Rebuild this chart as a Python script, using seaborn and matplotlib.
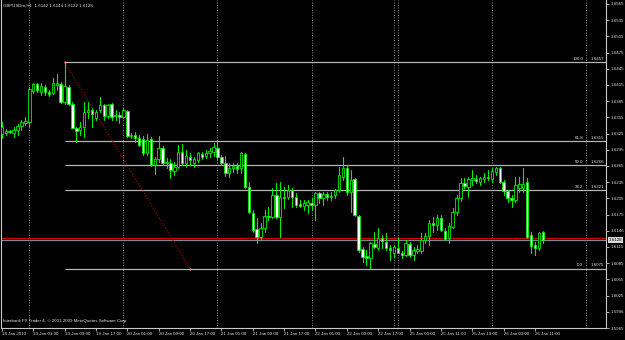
import matplotlib
matplotlib.use("Agg")
import matplotlib.pyplot as plt
import numpy as np
import pandas as pd
import seaborn as sns

# ---------------- data (GBPUSDm, H1) ----------------
bar_index = list(range(-7, 132))

opens = [
    1.6325, 1.6326, 1.6330, 1.6326, 1.6332, 1.6339, 1.6345,
    1.6347, 1.6404, 1.6417, 1.6402, 1.6411, 1.6402, 1.6400, 1.6415, 1.6417, 1.6384,
    1.6411, 1.6380, 1.6336, 1.6332, 1.6337, 1.6365, 1.6369, 1.6354, 1.6369, 1.6378,
    1.6358, 1.6380, 1.6358, 1.6360, 1.6356, 1.6367, 1.6321, 1.6323, 1.6317, 1.6315,
    1.6289, 1.6315, 1.6267, 1.6278, 1.6299, 1.6271, 1.6271, 1.6256, 1.6263, 1.6291,
    1.6271, 1.6282, 1.6271, 1.6276, 1.6288, 1.6284, 1.6289, 1.6291, 1.6299, 1.6282,
    1.6271, 1.6252, 1.6262, 1.6265, 1.6262, 1.6288, 1.6226, 1.6178, 1.6149, 1.6134,
    1.6151, 1.6173, 1.6171, 1.6212, 1.6171, 1.6208, 1.6208, 1.6221, 1.6208, 1.6195,
    1.6191, 1.6193, 1.6197, 1.6193, 1.6215, 1.6206, 1.6214, 1.6208, 1.6212, 1.6221,
    1.6245, 1.6262, 1.6217, 1.6241, 1.6173, 1.6112, 1.6099, 1.6095, 1.6121, 1.6114,
    1.6132, 1.6125, 1.6114, 1.6103, 1.6114, 1.6104, 1.6101, 1.6121, 1.6101, 1.6108,
    1.6108, 1.6128, 1.6136, 1.6160, 1.6156, 1.6169, 1.6145, 1.6132, 1.6152, 1.6180,
    1.6206, 1.6234, 1.6226, 1.6239, 1.6241, 1.6236, 1.6241, 1.6245, 1.6241, 1.6254,
    1.6262, 1.6236, 1.6219, 1.6206, 1.6202, 1.6225, 1.6225, 1.6236, 1.6138, 1.6119,
    1.6114, 1.6142,
]
highs = [
    1.6347, 1.6334, 1.6332, 1.6337, 1.6343, 1.6350, 1.6356,
    1.6411, 1.6419, 1.6419, 1.6419, 1.6415, 1.6406, 1.6428, 1.6436, 1.6421, 1.6457,
    1.6415, 1.6384, 1.6337, 1.6347, 1.6384, 1.6384, 1.6373, 1.6369, 1.6393, 1.6380,
    1.6380, 1.6382, 1.6369, 1.6365, 1.6373, 1.6369, 1.6326, 1.6328, 1.6323, 1.6321,
    1.6325, 1.6319, 1.6282, 1.6321, 1.6302, 1.6280, 1.6278, 1.6273, 1.6304, 1.6306,
    1.6295, 1.6289, 1.6282, 1.6291, 1.6291, 1.6295, 1.6299, 1.6308, 1.6310, 1.6286,
    1.6284, 1.6271, 1.6271, 1.6271, 1.6291, 1.6289, 1.6236, 1.6184, 1.6169, 1.6160,
    1.6184, 1.6189, 1.6225, 1.6234, 1.6236, 1.6226, 1.6230, 1.6225, 1.6215, 1.6202,
    1.6202, 1.6202, 1.6206, 1.6217, 1.6217, 1.6217, 1.6217, 1.6217, 1.6223, 1.6263,
    1.6282, 1.6267, 1.6258, 1.6243, 1.6175, 1.6115, 1.6110, 1.6125, 1.6143, 1.6151,
    1.6138, 1.6141, 1.6119, 1.6119, 1.6134, 1.6108, 1.6128, 1.6125, 1.6115, 1.6119,
    1.6140, 1.6141, 1.6165, 1.6171, 1.6175, 1.6175, 1.6151, 1.6160, 1.6188, 1.6212,
    1.6243, 1.6243, 1.6245, 1.6258, 1.6249, 1.6245, 1.6252, 1.6258, 1.6262, 1.6263,
    1.6263, 1.6239, 1.6221, 1.6212, 1.6245, 1.6245, 1.6262, 1.6243, 1.6143, 1.6125,
    1.6143, 1.6144,
]
lows = [
    1.6317, 1.6323, 1.6326, 1.6319, 1.6323, 1.6332, 1.6341,
    1.6337, 1.6400, 1.6402, 1.6397, 1.6397, 1.6395, 1.6399, 1.6406, 1.6382, 1.6380,
    1.6378, 1.6336, 1.6310, 1.6323, 1.6319, 1.6354, 1.6337, 1.6350, 1.6365, 1.6350,
    1.6354, 1.6350, 1.6350, 1.6345, 1.6354, 1.6319, 1.6317, 1.6310, 1.6302, 1.6286,
    1.6286, 1.6265, 1.6250, 1.6273, 1.6267, 1.6262, 1.6243, 1.6249, 1.6262, 1.6267,
    1.6263, 1.6267, 1.6263, 1.6273, 1.6278, 1.6280, 1.6282, 1.6284, 1.6278, 1.6267,
    1.6247, 1.6245, 1.6254, 1.6252, 1.6252, 1.6225, 1.6178, 1.6143, 1.6123, 1.6128,
    1.6143, 1.6165, 1.6169, 1.6169, 1.6134, 1.6188, 1.6204, 1.6189, 1.6189, 1.6189,
    1.6184, 1.6178, 1.6184, 1.6165, 1.6197, 1.6193, 1.6202, 1.6202, 1.6206, 1.6217,
    1.6239, 1.6212, 1.6180, 1.6173, 1.6106, 1.6088, 1.6082, 1.6077, 1.6114, 1.6110,
    1.6114, 1.6110, 1.6091, 1.6097, 1.6103, 1.6095, 1.6099, 1.6097, 1.6091, 1.6104,
    1.6104, 1.6123, 1.6119, 1.6143, 1.6147, 1.6145, 1.6128, 1.6123, 1.6151, 1.6175,
    1.6201, 1.6225, 1.6208, 1.6230, 1.6234, 1.6230, 1.6236, 1.6239, 1.6236, 1.6249,
    1.6234, 1.6212, 1.6199, 1.6189, 1.6199, 1.6217, 1.6217, 1.6132, 1.6104, 1.6101,
    1.6110, 1.6122,
]
closes = [
    1.6337, 1.6330, 1.6328, 1.6332, 1.6339, 1.6347, 1.6349,
    1.6408, 1.6417, 1.6406, 1.6413, 1.6402, 1.6399, 1.6419, 1.6419, 1.6384, 1.6413,
    1.6380, 1.6336, 1.6330, 1.6337, 1.6365, 1.6369, 1.6361, 1.6365, 1.6378, 1.6358,
    1.6378, 1.6356, 1.6360, 1.6356, 1.6369, 1.6321, 1.6323, 1.6317, 1.6304, 1.6289,
    1.6313, 1.6267, 1.6278, 1.6299, 1.6271, 1.6273, 1.6258, 1.6263, 1.6291, 1.6271,
    1.6284, 1.6276, 1.6278, 1.6289, 1.6282, 1.6289, 1.6293, 1.6300, 1.6282, 1.6271,
    1.6252, 1.6262, 1.6265, 1.6260, 1.6289, 1.6226, 1.6180, 1.6147, 1.6134, 1.6151,
    1.6173, 1.6171, 1.6212, 1.6171, 1.6208, 1.6206, 1.6221, 1.6208, 1.6193, 1.6191,
    1.6197, 1.6199, 1.6193, 1.6215, 1.6206, 1.6214, 1.6208, 1.6210, 1.6221, 1.6249,
    1.6262, 1.6217, 1.6239, 1.6175, 1.6110, 1.6097, 1.6095, 1.6123, 1.6115, 1.6132,
    1.6127, 1.6114, 1.6110, 1.6115, 1.6104, 1.6101, 1.6123, 1.6101, 1.6110, 1.6112,
    1.6128, 1.6136, 1.6160, 1.6156, 1.6169, 1.6147, 1.6130, 1.6154, 1.6180, 1.6206,
    1.6234, 1.6228, 1.6241, 1.6243, 1.6238, 1.6243, 1.6245, 1.6243, 1.6256, 1.6262,
    1.6236, 1.6219, 1.6206, 1.6202, 1.6230, 1.6232, 1.6232, 1.6134, 1.6117, 1.6114,
    1.6141, 1.6128,
]

price_ticks = [1.6565, 1.6535, 1.6505, 1.6475, 1.6445, 1.6415, 1.6385, 1.6355,
               1.6325, 1.6295, 1.6265, 1.6235, 1.6205, 1.6175, 1.6145, 1.6115,
               1.6085, 1.6055, 1.6025, 1.5995, 1.5965]
price_tick_labels = ["1.6565", "1.6535", "1.6505", "1.6475", "1.6445", "1.6415",
                     "1.6385", "1.6355", "1.6325", "1.6295", "1.6265", "1.6235",
                     "1.6205", "1.6175", "1.6146", "1.6115", "1.6085", "1.6055",
                     "1.6025", "1.5996", "1.5965"]

time_label_bars = [-7, 1, 9, 17, 25, 33, 41, 49, 57, 65, 73, 81, 89, 97, 105, 113, 121, 129]
time_labels = ["18 Jan 2010", "19 Jan 01:00", "19 Jan 09:00", "19 Jan 17:00",
               "20 Jan 01:00", "20 Jan 09:00", "20 Jan 17:00", "21 Jan 01:00",
               "21 Jan 09:00", "21 Jan 17:00", "22 Jan 01:00", "22 Jan 09:00",
               "22 Jan 17:00", "25 Jan 03:00", "25 Jan 11:00", "25 Jan 19:00",
               "26 Jan 03:00", "26 Jan 11:00"]
day_separator_bars = [0, 24, 48, 72, 93, 94, 118, 142]

fib_levels = ["100.0", "61.8", "50.0", "38.2", "0.0"]
fib_prices = [1.6457, 1.6311, 1.6266, 1.6221, 1.6075]
fib_price_labels = ["1.6457", "1.6311", "1.6266", "1.6221", "1.6075"]
fib_start_bar = 9
fib_end_bar = 41

bid_price = 1.6128
ask_price = 1.6132
symbol_title = "GBPUSDm,H1  1.6142 1.6144 1.6122 1.6128"
copyright_text = "Interbank FX Trader 4, \u00a9 2001-2009 MetaQuotes Software Corp."

# ---------------- styling ----------------
sns.set_theme(style="dark", rc={"axes.facecolor": "black", "figure.facecolor": "black",
                                "savefig.facecolor": "black"})
plt.rcParams["font.family"] = ["Liberation Sans", "DejaVu Sans"]

W, H = 625, 340
X_MIN, X_MAX = -7.22, 147.1
Y_MIN, Y_MAX = 1.59656, 1.65724
FS = 3.2
TXT = "#e0e0e0"
GREEN = "#00f000"

df = pd.DataFrame({"bar": bar_index, "open": opens, "high": highs,
                   "low": lows, "close": closes})
wicks = df.melt(id_vars="bar", value_vars=["low", "high"], value_name="price")

fig = plt.figure(figsize=(W / 100, H / 100), dpi=100)
ax = fig.add_axes([1 / W, 12 / H, 605 / W, 328 / H])
ax.set_facecolor("black")

# day separators
for b in day_separator_bars:
    ax.axvline(b, color="#9a9a9a", lw=0.6, ls=(0, (1.2, 1.8)), zorder=1)

# fibonacci levels
ax.hlines(fib_prices, fib_start_bar, X_MAX, colors="#b4b4b4", lw=0.9, zorder=2)
for lvl, p, pl in zip(fib_levels, fib_prices, fib_price_labels):
    ax.text(141.3, p + 0.00022, lvl, color=TXT, fontsize=FS, ha="right", va="bottom", zorder=6)
    ax.text(146.6, p + 0.00022, pl, color=TXT, fontsize=FS, ha="right", va="bottom", zorder=6)

# fib trend line
trend = pd.DataFrame({"bar": [fib_start_bar, fib_end_bar], "price": [fib_prices[0], fib_prices[-1]]})
sns.lineplot(data=trend, x="bar", y="price", color="#b00000", lw=0.8,
             linestyle=(0, (1, 1.6)), ax=ax, zorder=3)
ax.scatter(trend["bar"], trend["price"], s=2.5, color="#ff9090", zorder=7, linewidths=0)

# ask / bid lines
ax.axhline(ask_price, color="#d00000", lw=0.9, zorder=2)
ax.axhline(bid_price, color="#778899", lw=0.9, zorder=2)

# wicks
sns.lineplot(data=wicks, x="bar", y="price", units="bar", estimator=None,
             color=GREEN, lw=0.8, ax=ax, legend=False, sort=False, zorder=4)

# bodies
o = np.array(opens)
c = np.array(closes)
bars = np.array(bar_index)
bottom = np.minimum(o, c)
height = np.maximum(np.abs(c - o), 0.00007)
bull = c >= o
ax.bar(bars[bull], height[bull], bottom=bottom[bull], width=0.62, color="black",
       edgecolor=GREEN, linewidth=0.6, zorder=5)
ax.bar(bars[~bull], height[~bull], bottom=bottom[~bull], width=0.62, color="white",
       edgecolor=GREEN, linewidth=0.6, zorder=5)

# axes
ax.set_xlim(X_MIN, X_MAX)
ax.set_ylim(Y_MIN, Y_MAX)
ax.set_xlabel("")
ax.set_ylabel("")
ax.grid(False)
ax.yaxis.tick_right()
ax.set_yticks(price_ticks, price_tick_labels)
ax.set_xticks(time_label_bars, time_labels)
for lab in ax.get_xticklabels():
    lab.set_horizontalalignment("left")
ax.tick_params(axis="both", colors="#c8c8c8", labelcolor=TXT, length=2.0, width=0.6,
               labelsize=FS, pad=1.0, direction="out")
ax.tick_params(axis="y", right=True, left=False, labelright=True, labelleft=False)
ax.tick_params(axis="x", bottom=True)
for side in ["left", "right", "bottom"]:
    ax.spines[side].set_visible(True)
    ax.spines[side].set_color("#c8c8c8")
    ax.spines[side].set_linewidth(0.8)
ax.spines["top"].set_visible(False)

# bid label on the price scale
ax.text(1.005, bid_price, "1.6128", transform=ax.get_yaxis_transform(), fontsize=FS,
        color="black", va="center", ha="left", zorder=8,
        bbox=dict(boxstyle="square,pad=0.15", fc="#d8d8d8", ec="none"))

fig.text(3 / W, 1 - 5.5 / H, symbol_title, color=TXT, fontsize=FS, va="center", ha="left")
fig.text(3 / W, 1 - 321 / H, copyright_text, color=TXT, fontsize=FS, va="center", ha="left")

fig.savefig("out.png", dpi=100, facecolor="black")
